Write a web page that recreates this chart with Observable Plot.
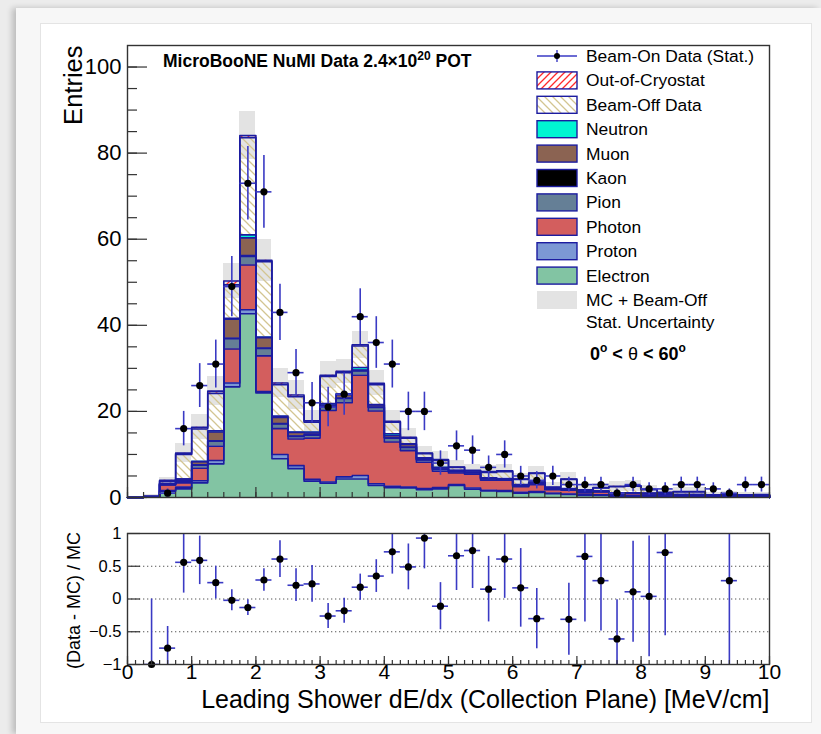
<!DOCTYPE html>
<html>
<head>
<meta charset="utf-8">
<script src="https://cdn.jsdelivr.net/npm/d3@7"></script>
<script src="https://cdn.jsdelivr.net/npm/@observablehq/plot@0.6"></script>
<style>
  html, body { margin: 0; padding: 0; width: 821px; height: 734px; overflow: hidden; background: #ececec; }
  #card { position: absolute; left: 16px; top: 8px; width: 805px; height: 726px; background: #f7f7f7; box-shadow: -4px 0 6px rgba(0,0,0,0.2); }
  #inner { position: absolute; left: 40px; top: 23px; width: 770px; height: 698px; border: 1px solid #e4e4e4; background: #fff; }
  #top, #ratio { position: absolute; left: 0; }
  #top { top: 0; }
  #ratio { top: 515px; }
  svg { overflow: visible; }
</style>
</head>
<body>
<div id="card"></div>
<div id="inner"></div>
<div id="top"></div>
<div id="ratio"></div>
<script>
const FONT = "'Liberation Sans', Arial, Helvetica, sans-serif";

// Binning of the leading-shower dE/dx histogram (MeV/cm)
const nBins = 40;
const binWidth = 0.25;
const xMax = 10;

// Beam-on data counts per bin
const dataCounts = [0, 0, 1, 16, 26, 31, 49, 73, 71, 43, 29, 22, 21, 24, 42, 36, 31, 20, 20, 8,
                    12, 11, 7, 10, 5, 4, 5, 3, 3, 3, 1, 3, 2, 2, 3, 3, 2, 1, 3, 3];

// Stacked prediction, per bin, from the bottom of the stack upwards
const electron = [0, 0.05, 1.4, 2.0, 3.4, 7.8, 25.7, 42.7, 24.3, 9.0, 6.7, 3.8, 3.3, 4.3, 4.3, 2.8, 2.3, 2.2, 1.8, 2.0,
                  2.8, 1.9, 1.5, 1.4, 1.0, 1.2, 0.9, 0.7, 0.5, 0.5, 0.3, 0.3, 0.3, 0.2, 0.2, 0.2, 0.1, 0.1, 0.1, 0.1];
const proton   = [0, 0, 0.2, 0.4, 0.5, 0.8, 0.9, 0.9, 0.3, 1.0, 0.7, 0.4, 0.3, 0.5, 0.8, 0.4, 0.3, 0.2, 0.3, 0.3,
                  0.2, 0.3, 0.2, 0.2, 0.2, 0.2, 0.1, 0.1, 0.1, 0.1, 0.1, 0.1, 0.1, 0.1, 0.1, 0.1, 0.05, 0.05, 0.05, 0.05];
const photon   = [0, 0.1, 1.3, 1.0, 2.9, 3.3, 7.9, 10.4, 8.3, 6.0, 6.2, 9.6, 16.6, 17.2, 23.3, 16.9, 10.3, 8.5, 6.1, 3.8,
                  2.7, 3.2, 2.3, 2.4, 1.3, 1.6, 0.8, 0.9, 0.5, 0.7, 0.4, 0.5, 0.4, 0.3, 0.2, 0.2, 0.15, 0.2, 0.15, 0.2];
const pion     = [0, 0, 0.1, 0.4, 0.7, 1.2, 2.4, 2.0, 1.7, 1.1, 0.6, 0.7, 0.9, 1.0, 1.0, 0.8, 0.9, 0.7, 0.5, 0.4,
                  0.3, 0.3, 0.3, 0.2, 0.2, 0.3, 0.1, 0.2, 0.1, 0.1, 0.1, 0.1, 0.1, 0.1, 0.1, 0.1, 0.05, 0.05, 0.05, 0.05];
const kaon     = [0, 0, 0.05, 0.1, 0.1, 0.1, 0.1, 0.2, 0.1, 0.1, 0.1, 0.1, 0.1, 0.1, 0.1, 0.1, 0.1, 0.1, 0.1, 0.1,
                  0.05, 0.05, 0.05, 0.05, 0.05, 0.05, 0, 0, 0, 0, 0, 0, 0, 0, 0, 0, 0, 0, 0, 0];
const muon     = [0, 0.05, 0.2, 0.4, 0.7, 2.0, 4.4, 4.1, 2.4, 1.4, 0.8, 0.4, 0.3, 0.8, 0.1, 0.5, 0.5, 0.6, 0.3, 0.3,
                  0.2, 0.1, 0.2, 0.1, 0.2, 0.2, 0.1, 0.1, 0.1, 0.1, 0.1, 0.1, 0.1, 0.1, 0.1, 0.1, 0.05, 0.05, 0.05, 0.05];
const neutron  = [0, 0, 0, 0, 0.1, 0.3, 0.2, 0.7, 0.2, 0.3, 0.1, 0.2, 0.3, 0.2, 0.6, 0.1, 0.4, 0.2, 0.1, 0.1,
                  0.05, 0.05, 0.05, 0.05, 0.05, 0.05, 0, 0.1, 0, 0, 0.1, 0, 0, 0, 0, 0, 0, 0, 0, 0];
const beamOff  = [0, 0.1, 0.45, 5.7, 7.5, 8.7, 7.8, 22.6, 17.5, 7.3, 8.2, 2.3, 6.3, 4.9, 5.0, 4.6, 2.7, 1.3, 1.0, 1.6,
                  0.7, 0.3, 1.2, 1.6, 1.2, 2.0, 0.3, 2.1, 0.4, 0.7, 1.4, 1.5, 0.8, 0.3, 0.6, 0.6, 0.15, 0.3, 0.15, 0.2];
const outCryo  = [0, 0, 0.3, 0.3, 0.4, 0.5, 0.9, 0.5, 0.3, 0.4, 0.4, 0.3, 0.3, 0.3, 0.3, 0.3, 0.2, 0.2, 0.1, 0.2,
                  0.1, 0.1, 0.2, 0.2, 0.1, 0.1, 0.1, 0.1, 0.1, 0.1, 0.1, 0.1, 0.1, 0.1, 0.1, 0.1, 0.05, 0.05, 0.05, 0.05];

// MC + beam-off statistical uncertainty per bin
const mcUnc = [0, 0.3, 0.6, 2.2, 2.9, 3.3, 4.0, 5.6, 4.9, 3.3, 3.3, 2.4, 3.1, 2.8, 3.1, 2.9, 2.4, 2.0, 1.6, 1.8,
               1.5, 1.4, 1.4, 1.5, 1.3, 1.5, 1.0, 1.4, 0.9, 1.0, 1.2, 1.2, 0.9, 0.7, 0.9, 0.9, 0.5, 0.6, 0.5, 0.5];

// (Data - MC) / MC per bin and its uncertainty (null where not shown)
const ratio = [null, -1.0, -0.75, 0.56, 0.59, 0.25, -0.02, -0.13, 0.29, 0.61, 0.21, 0.23, -0.26, -0.18, 0.18, 0.35, 0.72, 0.49, 0.93, -0.11,
               0.66, 0.74, 0.15, 0.61, 0.17, -0.30, null, -0.31, 0.65, 0.28, -0.61, 0.11, 0.04, 0.71, null, null, null, 0.28, null, null];
const ratioErr = [null, 1.0, 0.33, 0.47, 0.37, 0.25, 0.16, 0.12, 0.17, 0.28, 0.25, 0.28, 0.19, 0.19, 0.2, 0.25, 0.34, 0.35, 0.47, 0.36,
                  0.53, 0.58, 0.5, 0.6, 0.6, 0.46, null, 0.55, 1.0, 0.77, 0.6, 0.77, 0.92, 1.27, null, null, null, 1.5, null, null];

// Axis ticks and labels
const yTicksMajor = [0, 20, 40, 60, 80, 100];
const yTicksMinor = d3.range(0, 105, 5);
const xTicksMajor = d3.range(0, 11, 1);
const xTicksMinorTop = d3.range(0, 10.001, 0.25);
const xTicksMinorRatio = d3.range(0, 10.001, 0.125);
const rTicks = [-1, -0.5, 0, 0.5, 1];
const rTickLabels = ["\u22121", "\u22120.5", "0", "0.5", "1"];

const layers = [
  {name: "Electron", values: electron, fill: "#82c4a3"},
  {name: "Proton", values: proton, fill: "#7c98d4"},
  {name: "Photon", values: photon, fill: "#d35e5e"},
  {name: "Pion", values: pion, fill: "#657f96"},
  {name: "Kaon", values: kaon, fill: "#000000"},
  {name: "Muon", values: muon, fill: "#8b6352"},
  {name: "Neutron", values: neutron, fill: "#00f5d2"},
  {name: "Beam-Off Data", values: beamOff, fill: "url(#hatchOff)"},
  {name: "Out-of-Cryostat", values: outCryo, fill: "url(#hatchCryo)"}
];

const NAVY = "#1c1ca0";
const ERR = "#3a3ac4";

const bins = d3.range(nBins).map(i => ({i, x1: i * binWidth, x2: (i + 1) * binWidth, xc: (i + 0.5) * binWidth}));

// cumulative stack levels
let cum = new Array(nBins).fill(0);
const bands = layers.map(L => {
  const lo = cum.slice();
  cum = cum.map((c, i) => c + L.values[i]);
  return {...L, lo, hi: cum.slice()};
});
const total = cum;

function areaPts(b) {
  const pts = bins.map(d => ({x: d.x1, y1: b.lo[d.i], y2: b.hi[d.i]}));
  pts.push({x: xMax, y1: b.lo[nBins - 1], y2: b.hi[nBins - 1]});
  return pts;
}
function stepPts(b) {
  const pts = [{x: 0, y: 0}];
  bins.forEach(d => pts.push({x: d.x1, y: b.hi[d.i]}));
  pts.push({x: xMax, y: b.hi[nBins - 1]});
  pts.push({x: xMax, y: 0});
  return pts;
}

// hatch patterns for the beam-off and out-of-cryostat layers
function patternDefs() {
  const defs = d3.create("svg:defs");
  const off = defs.append("pattern").attr("id", "hatchOff").attr("patternUnits", "userSpaceOnUse")
    .attr("width", 8).attr("height", 8);
  off.append("path").attr("d", "M-2,-2L10,10M-2,6L2,10M6,-2L10,2")
    .attr("stroke", "#d3c591").attr("stroke-width", 1.3).attr("fill", "none");
  const cry = defs.append("pattern").attr("id", "hatchCryo").attr("patternUnits", "userSpaceOnUse")
    .attr("width", 7).attr("height", 7);
  cry.append("path").attr("d", "M-2,9L9,-2M-2,2L2,-2M5,9L9,5")
    .attr("stroke", "#ff2a2a").attr("stroke-width", 1.3).attr("fill", "none");
  return defs.node();
}

// ---------- top panel ----------
const W = 821;
const topH = 515;
const mL = 127, mR = W - 769, mT = 45, mB = topH - 497;
const yMax = 105;
const pxX = xMax / (W - mL - mR);
const pxY = yMax / (topH - mT - mB);

const dataPts = bins.filter(d => dataCounts[d.i] > 0).map(d => ({...d, n: dataCounts[d.i], e: Math.sqrt(dataCounts[d.i])}));

const topPlot = Plot.plot({
  width: W, height: topH,
  marginLeft: mL, marginRight: mR, marginTop: mT, marginBottom: mB,
  x: {domain: [0, xMax], axis: null},
  y: {domain: [0, yMax], axis: null},
  style: {fontFamily: FONT, background: "transparent", overflow: "visible"},
  marks: [
    patternDefs,
    Plot.rect(bins, {x1: "x1", x2: "x2", y1: d => total[d.i] - mcUnc[d.i], y2: d => total[d.i] + mcUnc[d.i],
      fill: "#e3e3e3", shapeRendering: "crispEdges"}),
    ...bands.map(b => Plot.areaY(areaPts(b), {x: "x", y1: "y1", y2: "y2", curve: "step-after", fill: b.fill})),
    ...bands.map(b => Plot.line(stepPts(b), {x: "x", y: "y", curve: "step-after", stroke: NAVY, strokeWidth: 1.6})),
    // axis ticks drawn inside the frame
    Plot.ruleY(yTicksMajor, {x1: 0, x2: 20 * pxX, stroke: "#333", strokeWidth: 1.2}),
    Plot.ruleY(yTicksMinor, {x1: 0, x2: 10 * pxX, stroke: "#333", strokeWidth: 1.2}),
    Plot.ruleX(xTicksMajor, {y1: 0, y2: 10 * pxY, stroke: "#333", strokeWidth: 1.2}),
    Plot.ruleX(xTicksMinorTop, {y1: 0, y2: 5 * pxY, stroke: "#333", strokeWidth: 1.2}),
    // beam-on data with statistical errors
    Plot.ruleX(dataPts, {x: "xc", y1: d => d.n - d.e, y2: d => d.n + d.e, stroke: ERR, strokeWidth: 1.6}),
    Plot.ruleY(dataPts, {y: "n", x1: "x1", x2: "x2", stroke: ERR, strokeWidth: 1.6}),
    Plot.dot(dataPts, {x: "xc", y: "n", r: 3.6, fill: "black", stroke: "none"}),
    Plot.frame({stroke: "#333", strokeWidth: 1.4}),
    Plot.text(yTicksMajor, {x: 0, y: d => d, text: d => String(d), textAnchor: "end", dx: -6, fontSize: 22, fill: "black"}),
    Plot.text(["Entries"], {frameAnchor: "top-left", rotate: -90, textAnchor: "end", dx: -64, fontSize: 25.5, fill: "black"})
  ]
});
document.getElementById("top").appendChild(topPlot);

// title, legend and angular selection label
{
  const svg = d3.select(topPlot);
  const t = svg.append("text").attr("x", 163).attr("y", 67).attr("font-family", FONT).attr("text-anchor", "start")
    .attr("font-weight", "bold").attr("font-size", 17.5).attr("fill", "black");
  t.append("tspan").text("MicroBooNE NuMI Data 2.4\u00d710");
  t.append("tspan").attr("font-size", 12).attr("dy", -7).text("20");
  t.append("tspan").attr("dy", 7).text(" POT");

  const g = svg.append("g").attr("font-family", FONT).attr("font-size", 17.4).attr("text-anchor", "start");
  const x0 = 537, sw = 40, sh = 17, tx = 586, row0 = 56, step = 24.4;
  const entries = [
    {label: "Beam-On Data (Stat.)", kind: "data"},
    ...layers.slice().reverse().map(L => ({label: L.name, kind: "box", fill: L.fill})),
    {label: "MC + Beam-Off", kind: "unc"}
  ];
  entries.forEach((e, k) => {
    const cy = row0 + k * step;
    if (e.kind === "data") {
      g.append("line").attr("x1", x0).attr("x2", x0 + sw).attr("y1", cy).attr("y2", cy).attr("stroke", ERR).attr("stroke-width", 1.4);
      g.append("line").attr("x1", x0 + sw / 2).attr("x2", x0 + sw / 2).attr("y1", cy - 6).attr("y2", cy + 6).attr("stroke", ERR).attr("stroke-width", 1.4);
      g.append("circle").attr("cx", x0 + sw / 2).attr("cy", cy).attr("r", 3).attr("fill", "black");
    } else if (e.kind === "box") {
      g.append("rect").attr("x", x0).attr("y", cy - sh / 2).attr("width", sw).attr("height", sh)
        .attr("fill", e.fill).attr("stroke", NAVY).attr("stroke-width", 1.4);
    } else {
      g.append("rect").attr("x", x0).attr("y", cy - sh / 2 - 0.5).attr("width", sw).attr("height", sh + 1).attr("fill", "#e3e3e3");
    }
    g.append("text").attr("x", tx).attr("y", cy).attr("dy", "0.35em").attr("fill", "black").text(e.label);
  });
  g.append("text").attr("x", tx).attr("y", row0 + entries.length * step - 2.4).attr("dy", "0.35em").attr("fill", "black").text("Stat. Uncertainty");

  const th = svg.append("text").attr("x", 590).attr("y", 360).attr("font-family", FONT).attr("text-anchor", "start")
    .attr("font-weight", "bold").attr("font-size", 18).attr("fill", "black");
  th.append("tspan").text("0");
  th.append("tspan").attr("font-size", 12).attr("dy", -8).text("o");
  th.append("tspan").attr("dy", 8).text(" < ");
  th.append("tspan").attr("font-weight", "normal").text("\u03b8");
  th.append("tspan").text(" < 60");
  th.append("tspan").attr("font-size", 12).attr("dy", -8).text("o");
}

// ---------- ratio panel ----------
const rH = 734 - 515;
const rT = 533 - 515, rB = 734 - 664;
const pxR = 2 / (rH - rT - rB);
const ratioPts = bins.filter(d => ratio[d.i] !== null).map(d => ({...d, r: ratio[d.i], e: ratioErr[d.i]}));

const ratioPlot = Plot.plot({
  width: W, height: rH,
  marginLeft: mL, marginRight: mR, marginTop: rT, marginBottom: rB,
  x: {domain: [0, xMax], axis: null},
  y: {domain: [-1, 1], axis: null},
  style: {fontFamily: FONT, background: "transparent", overflow: "visible"},
  marks: [
    Plot.ruleY([-0.5, 0, 0.5], {stroke: "#555", strokeWidth: 1, strokeDasharray: "1.3,2.7"}),
    Plot.ruleX(ratioPts, {x: "xc", y1: d => d.r - d.e, y2: d => d.r + d.e, stroke: ERR, strokeWidth: 1.6, clip: true}),
    Plot.ruleY(ratioPts, {y: "r", x1: "x1", x2: "x2", stroke: ERR, strokeWidth: 1.6, clip: true}),
    Plot.dot(ratioPts, {x: "xc", y: "r", r: 3.6, fill: "black", stroke: "none"}),
    Plot.ruleY(rTicks, {x1: 0, x2: 13 * pxX, stroke: "#333", strokeWidth: 1.2}),
    Plot.ruleX(xTicksMajor, {y1: -1, y2: -1 + 8 * pxR, stroke: "#333", strokeWidth: 1.2}),
    Plot.ruleX(xTicksMinorRatio, {y1: -1, y2: -1 + 4 * pxR, stroke: "#333", strokeWidth: 1.2}),
    Plot.frame({stroke: "#333", strokeWidth: 1.4}),
    Plot.text(rTicks, {x: 0, y: d => d, text: (d, i) => rTickLabels[i], textAnchor: "end", dx: -6, fontSize: 16.5, fill: "black"}),
    Plot.text(xTicksMajor, {x: d => d, y: -1, text: d => String(d), dy: 8, fontSize: 21, fill: "black"}),
    Plot.text(["Leading Shower dE/dx (Collection Plane) [MeV/cm]"], {frameAnchor: "bottom-right", textAnchor: "end", dy: 43, fontSize: 25, fill: "black"}),
    Plot.text(["(Data - MC) / MC"], {frameAnchor: "left", rotate: -90, textAnchor: "middle", dx: -53, dy: 1.5, fontSize: 18, fill: "black"})
  ]
});
document.getElementById("ratio").appendChild(ratioPlot);
</script>
</body>
</html>
